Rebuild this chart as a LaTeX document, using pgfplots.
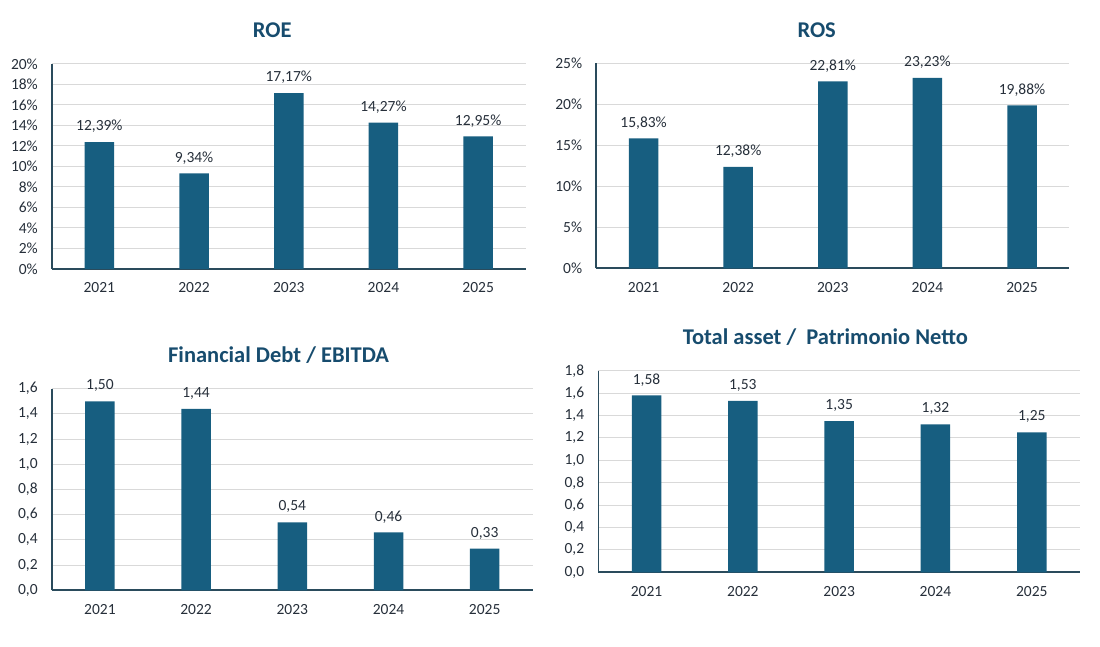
\documentclass[border=0pt]{standalone}
\usepackage{fontspec}
\setmainfont{Carlito}
\usepackage{pgfplots}
\pgfplotsset{compat=1.18}
\definecolor{barblue}{HTML}{175E80}
\definecolor{titleblue}{HTML}{174C6E}
\definecolor{axiscol}{HTML}{2A4B5C}
\definecolor{gridcol}{HTML}{D9D9D9}
\definecolor{txtcol}{HTML}{262F3A}
\pgfplotsset{
  /pgf/number format/assume math mode=true,
  kpi/.style={
    scale only axis,
    anchor=south west,
    clip=false,
    ybar, bar width=29.5pt, bar shift=0pt,
    xmin=-0.5, xmax=4.5, ymin=0,
    xtick={0,1,2,3,4},
    xticklabels={2021,2022,2023,2024,2025},
    axis x line*=bottom, axis y line*=left,
    axis line style={-, draw=axiscol, line width=1.8pt},
    major tick length=0pt,
    ymajorgrids, grid style={draw=gridcol, line width=1pt},
    tick label style={font=\fontsize{15.5}{15.5}\selectfont, text=txtcol},
    xticklabel style={anchor=center, yshift=-19pt},
    yticklabel style={anchor=east, inner xsep=0pt, xshift=-14pt},
    point meta=y,
    nodes near coords style={font=\fontsize{15.5}{15.5}\selectfont, text=txtcol, anchor=center, yshift=15.5pt},
  },
  barstyle/.style={fill=barblue, draw=none},
}
\begin{document}
\begin{tikzpicture}[x=1pt,y=1pt]
\useasboundingbox (0,0) rectangle (1100,646);
% ROE
\begin{axis}[kpi, at={(52pt,377pt)}, width=473.5pt, height=205pt, ymax=20,
  ytick={0,2,4,6,8,10,12,14,16,18,20},
  yticklabels={0\%,2\%,4\%,6\%,8\%,10\%,12\%,14\%,16\%,18\%,20\%},
  nodes near coords={\pgfmathprintnumber[fixed,fixed zerofill,precision=2,use comma]{\pgfplotspointmeta}\%}]
\addplot[barstyle] coordinates {(0,12.39) (1,9.34) (2,17.17) (3,14.27) (4,12.95)};
\end{axis}
% ROS
\begin{axis}[kpi, at={(596.3pt,377.7pt)}, width=473pt, height=205pt, ymax=25,
  ytick={0,5,10,15,20,25},
  yticklabels={0\%,5\%,10\%,15\%,20\%,25\%},
  nodes near coords={\pgfmathprintnumber[fixed,fixed zerofill,precision=2,use comma]{\pgfplotspointmeta}\%}]
\addplot[barstyle] coordinates {(0,15.83) (1,12.38) (2,22.81) (3,23.23) (4,19.88)};
\end{axis}
% Financial Debt / EBITDA
\begin{axis}[kpi, at={(51.8pt,55.7pt)}, width=481pt, height=201.6pt, ymax=1.6,
  ytick={0,0.2,0.4,0.6,0.8,1.0,1.2,1.4,1.6},
  yticklabels={{0,0},{0,2},{0,4},{0,6},{0,8},{1,0},{1,2},{1,4},{1,6}},
  nodes near coords={\pgfmathprintnumber[fixed,fixed zerofill,precision=2,use comma]{\pgfplotspointmeta}}]
\addplot[barstyle] coordinates {(0,1.50) (1,1.44) (2,0.54) (3,0.46) (4,0.33)};
\end{axis}
% Total asset / Patrimonio Netto
\begin{axis}[kpi, at={(598.4pt,73.7pt)}, width=481.5pt, height=201.6pt, ymax=1.8,
  ytick={0,0.2,0.4,0.6,0.8,1.0,1.2,1.4,1.6,1.8},
  yticklabels={{0,0},{0,2},{0,4},{0,6},{0,8},{1,0},{1,2},{1,4},{1,6},{1,8}},
  nodes near coords={\pgfmathprintnumber[fixed,fixed zerofill,precision=2,use comma]{\pgfplotspointmeta}}]
\addplot[barstyle] coordinates {(0,1.58) (1,1.53) (2,1.35) (3,1.32) (4,1.25)};
\end{axis}
% titles
\begin{scope}[every node/.style={font=\fontsize{22.5}{22.5}\selectfont\bfseries, text=titleblue, anchor=center}]
\node at (272.3,616) {ROE};
\node at (816.7,616) {ROS};
\node at (278.6,291) {Financial Debt / EBITDA};
\node at (825.4,309.3) {Total asset /\ \ Patrimonio Netto};
\end{scope}
\end{tikzpicture}
\end{document}
